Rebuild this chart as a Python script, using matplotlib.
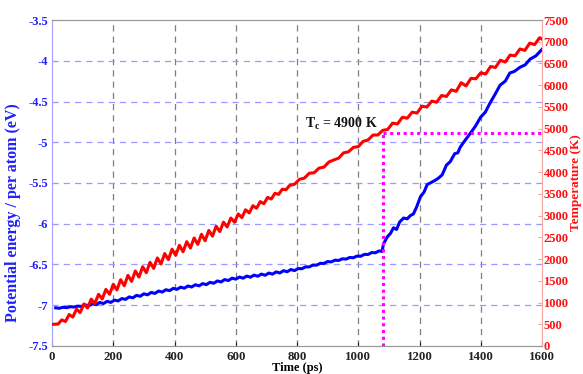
import numpy as np
import matplotlib
matplotlib.use('Agg')
from matplotlib import pyplot as plt

# Potential energy per atom (eV) vs time (ps), blue curve
pe_time = [12 * k for k in range(1, 90)] + [
    1078, 1082, 1095, 1105, 1115, 1125, 1135, 1148, 1160, 1170, 1180, 1190,
    1203, 1215, 1225, 1235, 1250, 1262, 1274, 1288, 1300, 1315, 1325, 1333,
    1350, 1366, 1383, 1400, 1415, 1430, 1447, 1463, 1480, 1495, 1510, 1528,
    1545, 1561, 1580, 1600]
pe_ev = [
    -7.032, -7.037, -7.025, -7.030, -7.018, -7.022, -7.011, -7.015, -6.995, -7.008,
    -6.981, -6.994, -6.966, -6.979, -6.952, -6.965, -6.937, -6.947, -6.918, -6.928,
    -6.898, -6.909, -6.879, -6.890, -6.860, -6.872, -6.843, -6.855, -6.826, -6.838,
    -6.810, -6.821, -6.793, -6.805, -6.778, -6.791, -6.764, -6.776, -6.749, -6.762,
    -6.735, -6.747, -6.719, -6.730, -6.702, -6.714, -6.685, -6.697, -6.668, -6.680,
    -6.654, -6.668, -6.642, -6.656, -6.630, -6.644, -6.618, -6.632, -6.605, -6.618,
    -6.591, -6.604, -6.576, -6.589, -6.562, -6.575, -6.550, -6.552, -6.529, -6.530,
    -6.507, -6.508, -6.486, -6.487, -6.464, -6.468, -6.447, -6.451, -6.430, -6.434,
    -6.414, -6.417, -6.397, -6.399, -6.376, -6.377, -6.354, -6.356, -6.333,
    -6.34, -6.25, -6.16, -6.12, -6.05, -6.07, -5.98, -5.93, -5.94, -5.90, -5.88, -5.80,
    -5.67, -5.61, -5.52, -5.50, -5.47, -5.44, -5.40, -5.28, -5.24, -5.14, -5.13, -5.06,
    -4.97, -4.89, -4.80, -4.69, -4.63, -4.52, -4.41, -4.30, -4.25, -4.15, -4.13, -4.08,
    -4.05, -3.98, -3.94, -3.86]

# Temperature (K) vs time (ps), red curve
temp_time = [5, 20] + [20 + 12 * k for k in range(1, 63)] + \
    [776 + 16 * j for j in range(52)] + [1600]
temp_k = [
    500, 505,
    601, 563, 724, 666, 847, 768, 966, 874, 1078, 978,
    1189, 1082, 1302, 1190, 1421, 1289, 1525, 1386, 1626, 1486,
    1725, 1585, 1824, 1685, 1925, 1785, 2026, 1886, 2127, 1987,
    2227, 2085, 2317, 2169, 2401, 2253, 2485, 2337, 2569, 2421,
    2658, 2527, 2755, 2633, 2850, 2738, 2945, 2847, 3038, 2954,
    3134, 3061, 3227, 3170, 3322, 3274, 3418, 3381, 3514, 3488,
    3607, 3595,
    3695, 3722, 3835, 3862, 3974, 3986, 4093, 4116, 4233, 4280,
    4322, 4444, 4467, 4569, 4586, 4708, 4740, 4853, 4855, 4962,
    4982, 5127, 5108, 5262, 5241, 5380, 5359, 5517, 5497, 5633,
    5609, 5763, 5741, 5893, 5860, 6057, 5984, 6157, 6149, 6286,
    6258, 6430, 6408, 6575, 6532, 6694, 6676, 6834, 6801, 6968,
    6935, 7092, 7060]

# melting point marker
tc_time = 1080
tc_temp = 4900

x_ticks = np.arange(0, 1601, 200)
pe_ticks = np.arange(-7.5, -3.49, 0.5)
temp_ticks = np.arange(0, 7501, 500)

plt.rcParams['font.family'] = 'Liberation Serif'
plt.rcParams['font.weight'] = 'bold'
plt.rcParams['axes.labelweight'] = 'bold'
plt.rcParams['mathtext.fontset'] = 'custom'
plt.rcParams['mathtext.rm'] = 'Liberation Serif:bold'
plt.rcParams['mathtext.bf'] = 'Liberation Serif:bold'

fig = plt.figure(figsize=(5.83, 3.74), dpi=100)
ax = fig.add_axes([0.0892, 0.0749, 0.8405, 0.8716])
ax2 = ax.twinx()

# grid: gray vertical, light blue horizontal
for xt in x_ticks[1:-1]:
    ax.axvline(xt, color='#7f7f7f', lw=0.9, ls=(0, (5, 4)), zorder=0)
for yt in pe_ticks[1:-1]:
    ax.axhline(yt, color='#9b9bff', lw=0.9, ls=(0, (5, 4)), zorder=0)

ax.plot(pe_time, pe_ev, color='#0000ff', lw=2.2, zorder=3)
ax2.plot(temp_time, temp_k, color='#ff0000', lw=2.2, zorder=3)

ax2.plot([tc_time, tc_time], [0, tc_temp], color='#ff00ff', lw=2.2,
         ls=(0, (1, 1.2)), zorder=4)
ax2.plot([tc_time, 1600], [tc_temp, tc_temp], color='#ff00ff', lw=2.2,
         ls=(0, (1, 1.2)), zorder=4)
ax2.text(826, 5110, r'T$_{\rm c}$ = 4900 K', fontsize=10, fontweight='bold',
         va='center', ha='left', color='#111111')

ax.set_xlim(0, 1600)
ax.set_ylim(-7.5, -3.5)
ax2.set_ylim(0, 7500)
ax.set_xticks(x_ticks)
ax.set_yticks(pe_ticks)
ax.set_yticklabels(['%g' % v for v in pe_ticks])
ax2.set_yticks(temp_ticks)

ax.tick_params(axis='x', direction='in', length=3, labelsize=9.3,
               colors='#222222', pad=3.5)
ax.tick_params(axis='y', direction='in', length=3, labelsize=9,
               colors='#9b9bff', labelcolor='#2020ff', pad=3)
ax2.tick_params(axis='y', direction='in', length=3, labelsize=9,
                colors='#ffa0a0', labelcolor='#ff1010', pad=1)

for a in (ax, ax2):
    a.spines['top'].set_color('#9a9a9a')
    a.spines['bottom'].set_color('#9a9a9a')
    a.spines['left'].set_color('#a8a8ff')
    a.spines['right'].set_color('#ffa8a8')

ax.set_xlabel('Time (ps)', fontsize=9, labelpad=-0.5)
ax.set_ylabel('Potential energy / per atom (eV)', fontsize=11.5,
              color='#2020ff')
ax.yaxis.set_label_coords(-0.063, 0.41)
ax2.set_ylabel('Temperature (K)', fontsize=9.5, color='#ff1010', labelpad=1)

fig.savefig('out.png', dpi=100)
